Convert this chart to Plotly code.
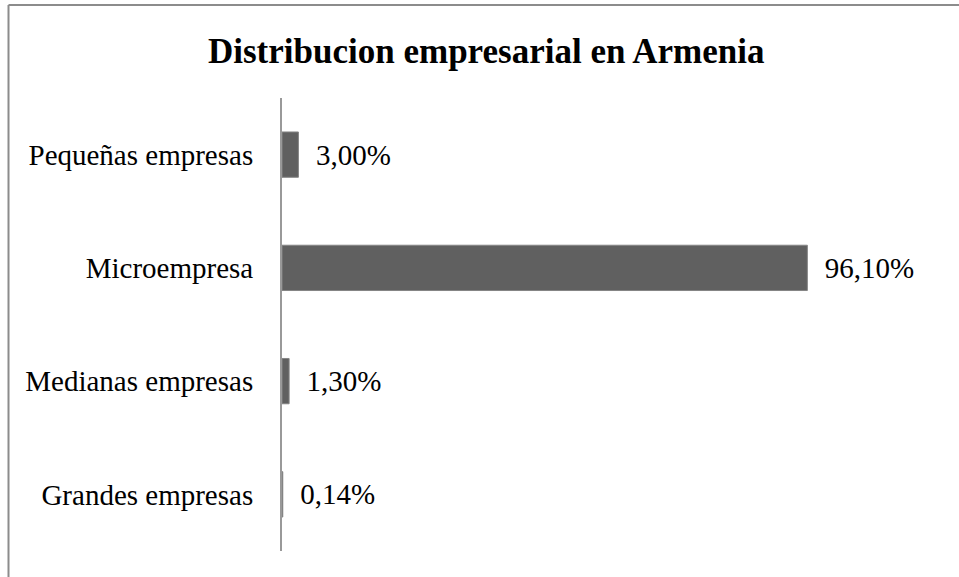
import plotly.graph_objects as go

categories = ["Grandes empresas", "Medianas empresas", "Microempresa", "Pequeñas empresas"]
values = [0.14, 1.30, 96.10, 3.00]
labels = ["0,14%", "1,30%", "96,10%", "3,00%"]
title = "Distribucion empresarial en Armenia"

fig = go.Figure(go.Bar(
    y=categories, x=values, orientation="h",
    text=labels, texttemplate="\u00a0\u00a0%{text}", textposition="outside", cliponaxis=False,
    textfont=dict(family="Liberation Serif", size=29, color="#000000"),
    marker=dict(color="#606060", line=dict(color="#858585", width=1)),
    width=0.4,
))

fig.update_layout(
    width=959, height=577,
    margin=dict(l=282, r=21, t=98, b=26),
    paper_bgcolor="white", plot_bgcolor="white",
    showlegend=False,
    title=dict(text="<b>" + title + "</b>", x=0.507, xanchor="center",
               y=1 - 51 / 577, yanchor="middle",
               font=dict(family="Liberation Serif", size=35, color="#000000")),
    font=dict(family="Liberation Serif", size=29, color="#000000"),
    xaxis=dict(range=[0, 120], visible=False, showgrid=False, zeroline=False),
    yaxis=dict(showline=True, linecolor="#999999", linewidth=2, showgrid=False,
               ticks="", ticklabelstandoff=21,
               tickfont=dict(family="Liberation Serif", size=29, color="#000000")),
    shapes=[
        dict(type="line", xref="paper", yref="paper",
             x0=(8.5 - 282) / 656, x1=1.05, y0=1 + 93 / 453, y1=1 + 93 / 453,
             line=dict(color="#8c8c8c", width=2)),
        dict(type="line", xref="paper", yref="paper",
             x0=(8.5 - 282) / 656, x1=(8.5 - 282) / 656, y0=1 + 93 / 453, y1=-0.1,
             line=dict(color="#8c8c8c", width=2)),
    ],
)

fig.write_html("out.html", config={"displayModeBar": False},
               post_script="document.body.style.margin='0';")
